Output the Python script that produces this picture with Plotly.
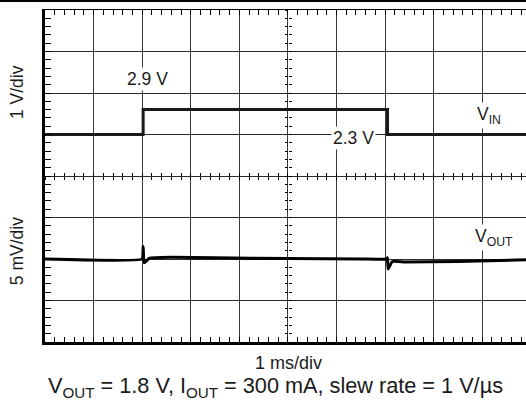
import plotly.graph_objects as go

# ---- data (time in ms) ----
vin_t = [0.0, 2.02, 2.02, 7.05, 7.05, 9.9]
vin_v = [2.3, 2.3, 2.9, 2.9, 2.3, 2.3]          # volts

vout_t = [0.0, 2.0, 2.02, 2.04, 2.15, 2.6, 3.5, 5.0, 6.5, 7.04, 7.05, 7.06, 7.15, 7.4, 8.5, 9.9]
vout_dev = [0.0, 0.0, 1.5, -0.45, 0.1, 0.2, 0.15, 0.05, 0.0, 0.0, 0.15, -1.2, -0.3, -0.35, -0.3, -0.1]  # mV

# scope screen scaling (divisions)
VIN_VDIV = 1.0      # V/div
VIN_REF_V = 2.3
VIN_REF_DIV = 5.0
VOUT_MVDIV = 5.0    # mV/div
VOUT_REF_DIV = 2.0

vin_div = [VIN_REF_DIV + (v - VIN_REF_V) / VIN_VDIV for v in vin_v]
vout_div = [VOUT_REF_DIV + d / VOUT_MVDIV for d in vout_dev]

FONT = "Liberation Sans, Arial, sans-serif"
TXT = "#1a1a1a"
XR = [0, 9.9]
YR = [0, 8]

fig = go.Figure()
fig.add_trace(go.Scatter(x=vin_t, y=vin_div, mode="lines",
                         line=dict(color="#1a1a1a", width=3), hoverinfo="skip", showlegend=False))
fig.add_trace(go.Scatter(x=vout_t, y=vout_div, mode="lines",
                         line=dict(color="#000000", width=3, shape="spline", smoothing=0.3),
                         hoverinfo="skip", showlegend=False))
# dummy traces to instantiate overlay axes
for xa, ya in [("x2", "y"), ("x3", "y"), ("x4", "y"), ("x", "y3"), ("x", "y4")]:
    fig.add_trace(go.Scatter(x=[None], y=[None], xaxis=xa, yaxis=ya, showlegend=False, hoverinfo="skip"))

minor_in = dict(dtick=0.2, ticks="inside", ticklen=5, tickcolor="black", showgrid=False)

fig.update_layout(
    width=526, height=402,
    margin=dict(l=45, r=0, t=10, b=60),
    paper_bgcolor="white", plot_bgcolor="white",
    font=dict(family=FONT, size=17, color=TXT),
    xaxis=dict(range=XR, dtick=1, tick0=0, showgrid=True, gridcolor="#3a3a3a", gridwidth=1,
               zeroline=False, showline=True, linewidth=3, linecolor="black",
               ticks="inside", ticklen=5, tickcolor="black", minor=minor_in,
               showticklabels=False, fixedrange=True),
    xaxis2=dict(range=XR, overlaying="x", side="top", anchor="y", dtick=1, tick0=0,
                showgrid=False, zeroline=False, showline=True, linewidth=1, linecolor="black",
                ticks="inside", ticklen=5, tickcolor="black", minor=minor_in,
                showticklabels=False, fixedrange=True),
    xaxis3=dict(range=XR, overlaying="x", anchor="free", position=0.5, side="bottom",
                dtick=1, tick0=0, showgrid=False, zeroline=False, showline=False,
                ticks="outside", ticklen=3, tickcolor="black",
                minor=dict(dtick=0.2, ticks="outside", ticklen=3, tickcolor="black", showgrid=False),
                showticklabels=False, fixedrange=True),
    xaxis4=dict(range=XR, overlaying="x", anchor="free", position=0.5, side="bottom",
                dtick=1, tick0=0, showgrid=False, zeroline=False, showline=False,
                ticks="inside", ticklen=3, tickcolor="black",
                minor=dict(dtick=0.2, ticks="inside", ticklen=3, tickcolor="black", showgrid=False),
                showticklabels=False, fixedrange=True),
    yaxis=dict(range=YR, dtick=1, tick0=0, showgrid=True, gridcolor="#2a2a2a", gridwidth=1,
               zeroline=False, showline=True, linewidth=3, linecolor="black",
               ticks="inside", ticklen=6, tickcolor="black",
               minor=dict(dtick=0.2, ticks="inside", ticklen=6, tickcolor="black", showgrid=False),
               showticklabels=False, fixedrange=True),
    yaxis3=dict(range=YR, overlaying="y", anchor="free", position=5 / 9.9, side="left",
                dtick=1, tick0=0, showgrid=False, zeroline=False, showline=False,
                ticks="outside", ticklen=3, tickcolor="black",
                minor=dict(dtick=0.2, ticks="outside", ticklen=3, tickcolor="black", showgrid=False),
                showticklabels=False, fixedrange=True),
    yaxis4=dict(range=YR, overlaying="y", anchor="free", position=5 / 9.9, side="left",
                dtick=1, tick0=0, showgrid=False, zeroline=False, showline=False,
                ticks="inside", ticklen=3, tickcolor="black",
                minor=dict(dtick=0.2, ticks="inside", ticklen=3, tickcolor="black", showgrid=False),
                showticklabels=False, fixedrange=True),
)

ann = [
    dict(x=2.1, y=6.34, text="2.9 V"),
    dict(x=6.35, y=4.92, text="2.3 V"),
    dict(x=9.14, y=5.47, text="V<sub>IN</sub>"),
    dict(x=9.25, y=2.53, text="V<sub>OUT</sub>"),
]
for a in ann:
    fig.add_annotation(x=a["x"], y=a["y"], xref="x", yref="y", text=a["text"], showarrow=False,
                       xanchor="center", yanchor="middle",
                       bgcolor="white", borderpad=1, font=dict(size=17.5, family=FONT, color=TXT))

side_labels = [
    dict(x=-0.058, y=0.753, text="1 V/div", angle=-90, size=17.5),
    dict(x=-0.058, y=0.274, text="5 mV/div", angle=-90, size=17.5),
    dict(x=0.507, y=-0.063, text="1 ms/div", angle=0, size=18),
    dict(x=0.479, y=-0.136,
         text="V<sub>OUT</sub> = 1.8 V, I<sub>OUT</sub> = 300 mA, slew rate = 1 V/µs", angle=0, size=21.7),
]
for s in side_labels:
    fig.add_annotation(x=s["x"], y=s["y"], xref="paper", yref="paper", text=s["text"],
                       textangle=s["angle"], showarrow=False, xanchor="center", yanchor="middle",
                       font=dict(size=s["size"], family=FONT, color=TXT))

# page: no body margin, plus the thin black rule along the very top of the page
POST = (
    "document.body.style.margin='0';"
    "var rule=document.createElement('div');"
    "rule.style.cssText='position:absolute;left:0;top:0;width:100%;height:2px;background:#000;z-index:1000;';"
    "document.body.appendChild(rule);"
)
fig.write_html("out.html", config={"displayModeBar": False}, post_script=POST)
